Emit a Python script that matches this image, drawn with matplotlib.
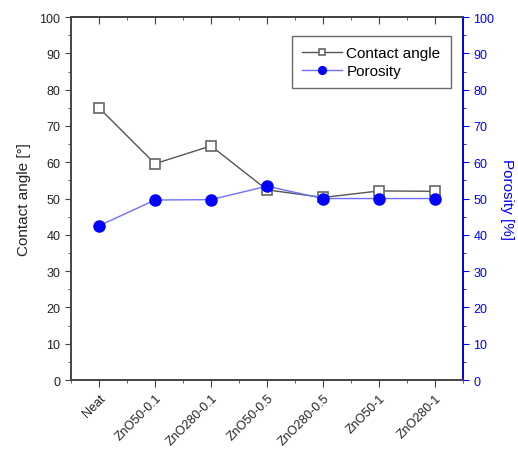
import matplotlib.pyplot as plt
from matplotlib.ticker import MultipleLocator

plt.rcParams["font.family"] = ["Liberation Sans", "DejaVu Sans"]

samples = ["Neat", "ZnO50-0.1", "ZnO280-0.1", "ZnO50-0.5",
           "ZnO280-0.5", "ZnO50-1", "ZnO280-1"]
contact_angle = [75.0, 59.6, 64.5, 52.4, 50.3, 52.1, 52.0]
porosity = [42.5, 49.6, 49.7, 53.4, 50.0, 50.0, 50.0]

blue = "#0000ff"
dark = "#444444"
x = list(range(len(samples)))

fig = plt.figure(figsize=(5.18, 4.52), dpi=100)
ax = fig.add_axes([0.137, 0.157, 0.757, 0.803])
ax2 = ax.twinx()

l1, = ax.plot(x, contact_angle, color="#555555", linewidth=1.0, marker="s",
              markersize=7, markerfacecolor="white", markeredgecolor="#666666",
              markeredgewidth=1.2, label="Contact angle", zorder=3)
l2, = ax2.plot(x, porosity, color="#6f6fff", linewidth=1.0, marker="o",
               markersize=8, markerfacecolor=blue, markeredgecolor=blue,
               label="Porosity", zorder=3)

ax.set_xlim(-0.5, 6.5)
ax.set_ylim(0, 100)
ax2.set_ylim(0, 100)
ax.set_xticks(x)
ax.set_xticklabels(samples, rotation=45, ha="right", rotation_mode="anchor",
                   fontsize=9)
ax.xaxis.set_minor_locator(MultipleLocator(0.5))
for a in (ax, ax2):
    a.yaxis.set_major_locator(MultipleLocator(10))
    a.yaxis.set_minor_locator(MultipleLocator(5))

ax.tick_params(axis="y", which="both", direction="out", colors=dark,
               labelsize=9, labelcolor="#222222")
ax.tick_params(axis="y", which="major", length=4)
ax.tick_params(axis="y", which="minor", length=2)
ax.tick_params(axis="x", which="both", direction="out", colors=dark,
               labelcolor="#222222")
ax.tick_params(axis="x", which="major", length=5)
ax.tick_params(axis="x", which="minor", length=2.5)
ax2.tick_params(axis="y", which="both", colors=blue, labelsize=9,
                direction="out")
ax2.tick_params(axis="y", which="major", length=4)
ax2.tick_params(axis="y", which="minor", length=2)

# top axis: inward ticks, no labels
top = ax.secondary_xaxis("top")
top.set_xticks(x)
top.xaxis.set_minor_locator(MultipleLocator(0.5))
top.tick_params(axis="x", which="both", direction="in", colors=dark,
                labeltop=False)
top.tick_params(axis="x", which="major", length=5)
top.tick_params(axis="x", which="minor", length=2.5)
top.spines["top"].set_color(dark)
top.spines["top"].set_linewidth(1.2)

for s in ("left", "top", "bottom"):
    ax.spines[s].set_color(dark)
ax2.spines["right"].set_color(blue)
for a in (ax, ax2):
    for sp in a.spines.values():
        sp.set_linewidth(1.2)
ax2.spines["left"].set_color(dark)
ax2.spines["top"].set_color(dark)
ax2.spines["bottom"].set_color(dark)

ax.set_ylabel("Contact angle [°]", fontsize=11, color="#222222", labelpad=6)
ax2.set_ylabel("Porosity [%]", fontsize=11, color=blue, rotation=270,
               labelpad=14)

ax.legend(handles=[l1, l2], loc="upper right", bbox_to_anchor=(0.968, 0.948),
          fontsize=11, frameon=True, fancybox=False, edgecolor="#444444",
          handlelength=2.6, borderpad=0.65, labelspacing=0.3,
          handletextpad=0.3, markerscale=0.7, borderaxespad=0)

plt.savefig("out.png", dpi=100)
